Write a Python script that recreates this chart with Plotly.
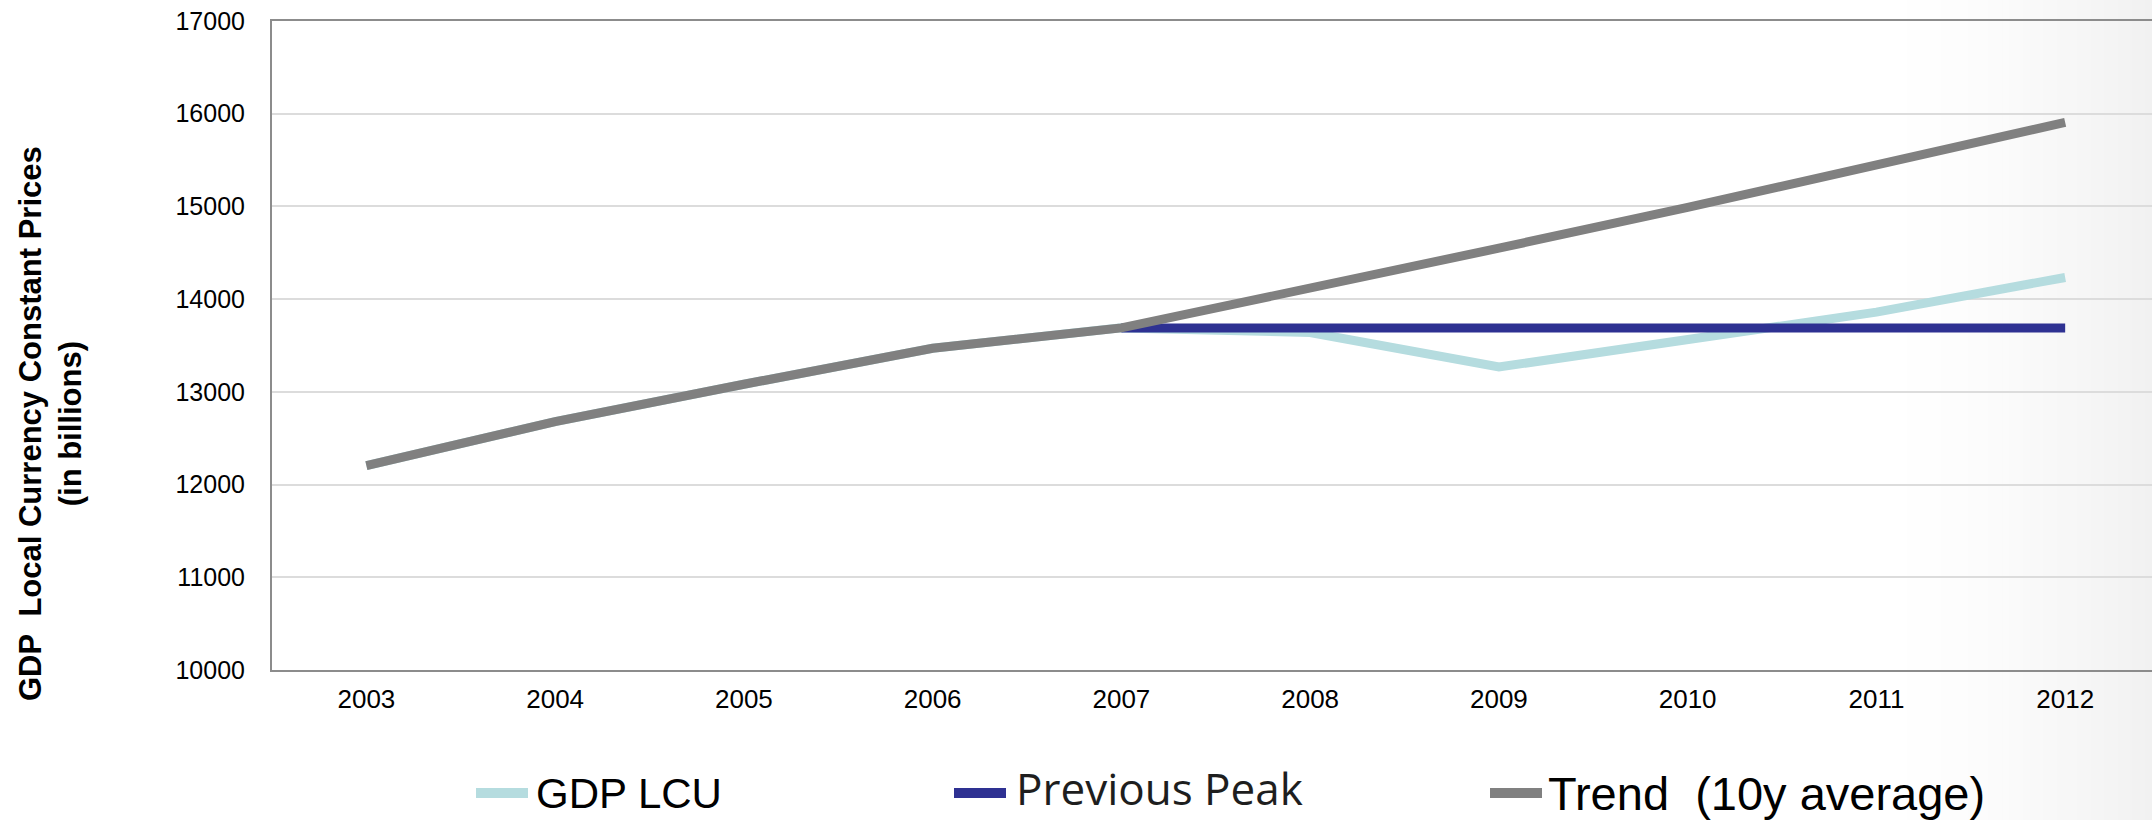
import plotly.graph_objects as go

# ---- data -------------------------------------------------------------
years = ["2003", "2004", "2005", "2006", "2007", "2008", "2009", "2010", "2011", "2012"]
gdp_lcu = [12204, 12680, 13082, 13470, 13690, 13640, 13268, 13570, 13860, 14234]
previous_peak = [None, None, None, None, 13690, 13690, 13690, 13690, 13690, 13690]
trend_10y = [12204, 12680, 13082, 13470, 13690, 14110, 14550, 14990, 15450, 15906]
y_ticks = [10000, 11000, 12000, 13000, 14000, 15000, 16000, 17000]

COL_GDP = "#B5DCDF"
COL_PEAK = "#2E3192"
COL_TREND = "#808080"

W, H = 2152, 820
M_L, M_R, M_T, M_B = 272, 0, 21, 150
PLOT_W = W - M_L - M_R
PLOT_H = H - M_T - M_B


def px_x(px):
    """pixel x -> paper x"""
    return (px - M_L) / PLOT_W


def px_y(py):
    """pixel y (from top) -> paper y"""
    return (H - M_B - py) / PLOT_H


fig = go.Figure()
fig.add_trace(go.Scatter(x=years, y=gdp_lcu, mode="lines", name="GDP LCU",
                         line=dict(color=COL_GDP, width=9)))
fig.add_trace(go.Scatter(x=years, y=previous_peak, mode="lines", name="Previous Peak",
                         line=dict(color=COL_PEAK, width=9)))
fig.add_trace(go.Scatter(x=years, y=trend_10y, mode="lines", name="Trend  (10y average)",
                         line=dict(color=COL_TREND, width=9)))

shapes = []
# soft grey fade at the right-hand side of the page
x0, x1, steps = 1880, W, 40
for i in range(steps):
    a = x0 + (x1 - x0) * i / steps
    b = x0 + (x1 - x0) * (i + 1) / steps
    t = (i + 0.5) / steps
    g = int(round(255 - 14 * t ** 1.5))
    shapes.append(dict(type="rect", xref="paper", yref="paper",
                       x0=px_x(a), x1=px_x(b) + 0.0005, y0=px_y(H), y1=px_y(0),
                       fillcolor=f"rgb({g},{g},{g})", line=dict(width=0), layer="below"))

# legend swatches
legend_y = 793
for (xa, xb, col) in [(476, 528, COL_GDP), (954, 1006, COL_PEAK), (1490, 1542, COL_TREND)]:
    shapes.append(dict(type="line", xref="paper", yref="paper",
                       x0=px_x(xa), x1=px_x(xb), y0=px_y(legend_y), y1=px_y(legend_y),
                       line=dict(color=col, width=10)))

annotations = [
    dict(text="<b>GDP\u00a0 Local Currency Constant Prices<br>(in billions)</b>",
         xref="paper", yref="paper", x=px_x(50), y=px_y(424),
         xanchor="center", yanchor="middle", textangle=-90, showarrow=False,
         font=dict(family="Liberation Sans", size=31, color="#000000"),
         ),
    dict(text="GDP LCU", xref="paper", yref="paper", x=px_x(534), y=px_y(legend_y),
         xanchor="left", yanchor="middle", showarrow=False,
         font=dict(family="Liberation Sans", size=42, color="#000000")),
    dict(text="Previous Peak", xref="paper", yref="paper", x=px_x(1014), y=px_y(legend_y - 5),
         xanchor="left", yanchor="middle", showarrow=False,
         font=dict(family="Open Sans", size=44, color="#1e1e1e")),
    dict(text="Trend\u00a0 (10y average)", xref="paper", yref="paper", x=px_x(1546), y=px_y(legend_y),
         xanchor="left", yanchor="middle", showarrow=False,
         font=dict(family="Liberation Sans", size=47, color="#000000")),
]

fig.update_layout(
    width=W, height=H,
    margin=dict(l=M_L, r=M_R, t=M_T, b=M_B, pad=0),
    paper_bgcolor="#ffffff",
    plot_bgcolor="rgba(0,0,0,0)",
    showlegend=False,
    shapes=shapes,
    annotations=annotations,
    xaxis=dict(
        type="category", range=[-0.5, 9.46],
        showline=True, linecolor="#8c8c8c", linewidth=2, mirror=True,
        showgrid=False, ticks="", ticklabelstandoff=5,
        tickfont=dict(family="Liberation Sans", size=26, color="#000000"),
        zeroline=False,
    ),
    yaxis=dict(
        range=[10000, 17000], tickvals=y_ticks, ticktext=[str(v) for v in y_ticks],
        showline=True, linecolor="#8c8c8c", linewidth=2, mirror=False,
        showgrid=True, gridcolor="#dcdcdc", gridwidth=2,
        ticks="", ticklabelstandoff=20,
        tickfont=dict(family="Liberation Sans", size=25, color="#000000"),
        zeroline=False,
    ),
)

fig.write_html("out.html")
